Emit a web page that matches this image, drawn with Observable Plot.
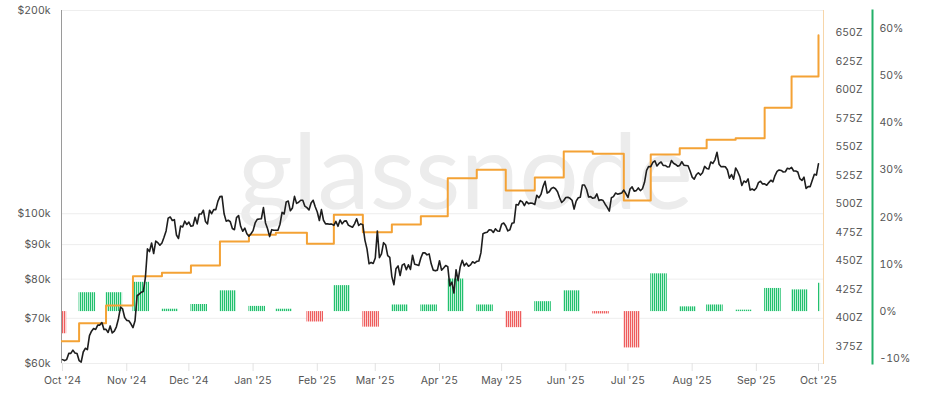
<!DOCTYPE html>
<html><head><meta charset="utf-8">
<script src="https://cdn.jsdelivr.net/npm/d3@7"></script>
<script src="https://cdn.jsdelivr.net/npm/@observablehq/plot@0.6"></script>
<style>
html,body{margin:0;padding:0;background:#fff;}
#chart{position:relative;width:930px;height:394px;overflow:hidden;}
#chart svg{position:absolute;left:0;top:0;}
</style></head><body><div id="chart"></div>
<script>
// ---------- DATA ----------
const priceStart = "2024-10-01"; // daily BTC price, $k
const priceK = [
// Oct 2024
60.8,60.6,60.8,62.1,62.1,62.8,62.2,62.1,60.6,60.3,62.4,63.2,62.9,66.0,67.0,67.6,67.4,68.4,68.4,69.0,67.4,67.4,66.7,68.2,66.6,67.0,68.0,69.9,72.7,72.3,70.2,
// Nov
69.5,69.4,68.7,67.8,69.4,75.6,76.0,76.5,76.7,80.4,88.7,87.9,90.5,87.3,91.1,90.6,89.8,90.5,92.3,94.3,98.5,98.9,97.7,98.0,93.0,91.9,95.9,95.6,97.5,96.4,
// Dec
97.2,95.8,96.0,98.8,96.6,99.9,99.9,101.2,97.4,96.6,101.2,100.0,101.4,101.4,104.3,106.0,106.1,100.0,97.5,97.8,97.3,95.1,94.7,98.7,99.4,95.8,94.2,95.2,93.4,92.6,93.4,
// Jan 2025
94.4,96.9,98.1,98.2,98.3,102.1,96.9,95.0,92.5,94.7,94.5,94.5,94.5,96.5,100.5,99.9,104.1,104.4,101.0,102.0,106.1,103.6,104.0,104.7,104.7,102.6,102.1,101.3,103.7,104.7,102.4,
// Feb
100.6,97.7,101.4,97.8,96.6,96.6,96.5,96.5,96.1,97.4,95.8,97.9,96.6,97.5,97.6,96.2,95.8,95.5,96.6,98.3,96.1,96.6,96.3,91.4,88.7,84.3,84.7,84.4,
// Mar
86.0,94.3,86.1,87.2,90.6,89.9,86.7,86.2,80.7,78.5,82.9,83.7,81.0,83.9,84.3,82.6,84.0,82.7,86.8,84.2,84.0,83.8,86.0,87.5,87.5,86.9,87.2,84.3,82.5,82.3,82.5,
// Apr
85.2,82.5,83.1,83.8,83.5,78.2,79.2,76.3,82.6,79.6,83.4,85.3,83.7,84.5,83.6,84.0,84.9,84.5,85.0,85.1,87.5,93.4,93.7,93.9,94.7,94.6,93.8,95.0,94.3,94.2,
// May
96.5,96.9,95.9,94.3,94.7,96.8,97.0,103.2,103.0,104.6,104.1,102.8,104.2,103.5,103.7,103.6,103.2,106.5,105.6,106.8,109.7,111.7,107.3,107.8,109.0,109.4,108.9,107.8,105.6,103.9,104.6,
// Jun
105.7,105.8,105.4,104.7,101.6,104.4,105.6,105.8,110.3,110.3,108.7,105.9,106.0,105.4,105.6,107.0,104.6,104.9,104.6,103.3,102.2,100.9,105.6,106.0,107.3,106.9,107.1,107.3,108.4,107.1,
// Jul
105.7,108.8,109.6,108.0,108.2,109.2,108.2,108.9,111.3,115.9,117.5,117.4,119.1,119.8,117.7,118.7,119.3,117.9,117.9,117.3,117.4,119.9,118.8,118.3,117.6,117.9,119.4,118.0,117.9,117.8,115.7,
// Aug
113.3,112.5,114.2,115.0,114.1,115.0,117.5,116.7,116.5,119.3,118.7,120.2,123.3,118.4,117.4,117.5,117.4,116.2,112.9,114.3,112.5,116.9,115.4,113.5,110.1,111.8,111.3,112.6,108.4,108.8,108.3,
// Sep
109.2,111.2,111.7,110.7,110.7,110.2,111.2,112.1,111.5,113.9,115.5,116.1,115.9,115.3,115.4,116.8,116.5,117.1,115.7,115.7,115.3,112.7,112.0,113.3,109.0,109.7,109.7,112.1,114.4,114.1,
// Oct 2025
118.6
];

// difficulty adjustments
const adjDates = ["2024-09-25","2024-10-09","2024-10-22","2024-11-04","2024-11-18","2024-12-02","2024-12-16","2024-12-30",
  "2025-01-12","2025-01-27","2025-02-09","2025-02-23","2025-03-09","2025-03-23","2025-04-05","2025-04-19","2025-05-03",
  "2025-05-17","2025-05-31","2025-06-14","2025-06-29","2025-07-12","2025-07-26","2025-08-08","2025-08-22","2025-09-05",
  "2025-09-18","2025-10-01"];
const difficultyZ = [379.4,395.2,410.7,436.4,439.4,445.8,466.9,472.8,474.5,464.9,490.3,475.1,481.8,489.1,522.5,529.9,511.7,
  523.1,545.9,543.9,502.9,543.3,548.8,556.2,557.6,584.3,611.8,648.0];
const adjChangePct = [-4.7,4.0,4.0,6.2,0.5,1.5,4.4,1.1,0.5,-2.2,5.5,-3.3,1.4,1.4,6.9,1.4,-3.4,2.1,4.4,-0.5,-7.7,8.0,1.0,1.4,0.3,4.9,4.6,6.0];

const priceTicks = [60,70,80,90,100,200];
const diffTicks = [375,400,425,450,475,500,525,550,575,600,625,650];
const pctTicks = [-10,0,10,20,30,40,50,60];
const monthTicks = ["2024-10-01","2024-11-01","2024-12-01","2025-01-01","2025-02-01","2025-03-01","2025-04-01",
  "2025-05-01","2025-06-01","2025-07-01","2025-08-01","2025-09-01","2025-10-01"];

// ---------- BUILD ----------
const DAY = 864e5;
const t0 = new Date(priceStart + "T00:00:00Z").getTime();
const price = priceK.map((v, i) => ({date: new Date(t0 + i * DAY), v}));
const tEnd = t0 + priceK.length * DAY;
const diff = adjDates.map((d, i) => ({date: new Date(d + "T00:00:00Z"), v: difficultyZ[i]}));
const bars = adjDates.map((d, i) => {
  const s = new Date(d + "T00:00:00Z").getTime();
  return {start: new Date(Math.max(s, t0)), end: new Date(Math.min(s + 8 * DAY, tEnd)), pct: adjChangePct[i]};
});
const xDomain = [new Date(Date.UTC(2024, 8, 30, 12)), new Date(Date.UTC(2025, 9, 3, 10))];
const mTicks = monthTicks.map(d => new Date(d + "T00:00:00Z"));

const common = {width: 930, height: 394, marginLeft: 61, marginRight: 107, marginTop: 10, marginBottom: 31};
const font = {fontFamily: "Inter, 'Noto Sans', sans-serif", fontSize: "10.5px", color: "#555"};

const base = Plot.plot({
  ...common,
  style: {...font, background: "#fff"},
  x: {type: "utc", domain: xDomain},
  y: {type: "log", domain: [60, 200]},
  marks: [
    Plot.text(["glassnode"], {text: d => d, frameAnchor: "middle", dx: 23, dy: -12, fontSize: 105,
      fill: "#ececec", fontFamily: "Lato, sans-serif"}),
    Plot.ruleY(priceTicks, {stroke: "#eeeeee"}),
    Plot.ruleX([xDomain[0]], {stroke: "#9a9a9a"}),
    Plot.axisX({ticks: mTicks, tickFormat: d3.utcFormat("%b '%y"), tickSize: 8, tickPadding: 5,
      stroke: "#e2e2e2", fill: "#555", label: null}),
    Plot.axisY({ticks: priceTicks, tickFormat: d => `$${d}k`, tickSize: 0, tickPadding: 11, fill: "#555", label: null})
  ]
});

const barLayer = Plot.plot({
  ...common,
  marginRight: 58,
  style: {...font, background: "transparent"},
  x: {type: "utc", domain: xDomain, range: [61, 823], axis: null},
  y: {domain: [-11, 63.8]},
  marks: [
    Plot.rectY(bars.filter(d => d.pct >= 0), {x1: "start", x2: "end", y1: 0, y2: "pct", fill: "url(#gstripe)"}),
    Plot.rectY(bars.filter(d => d.pct < 0), {x1: "start", x2: "end", y1: 0, y2: "pct", fill: "url(#rstripe)"}),
    Plot.frame({anchor: "right", stroke: "#22b068", strokeWidth: 2}),
    Plot.axisY({anchor: "right", ticks: pctTicks, tickFormat: d => d + "%", tickSize: 0, tickPadding: 7, fill: "#555", label: null})
  ]
});
const ns = "http://www.w3.org/2000/svg";
const defs = document.createElementNS(ns, "defs");
defs.innerHTML = `
<pattern id="gstripe" patternUnits="userSpaceOnUse" width="2" height="10">
  <rect width="2" height="10" fill="#c2f0d8"/><rect width="1" height="10" fill="#22c06e"/></pattern>
<pattern id="rstripe" patternUnits="userSpaceOnUse" width="2" height="10">
  <rect width="2" height="10" fill="#fad0d0"/><rect width="1" height="10" fill="#ee5c5c"/></pattern>`;
barLayer.insertBefore(defs, barLayer.firstChild);

const diffLayer = Plot.plot({
  ...common,
  style: {...font, background: "transparent"},
  x: {type: "utc", domain: xDomain, axis: null},
  y: {domain: [359.8, 669.7]},
  marks: [
    Plot.frame({anchor: "right", stroke: "#f7d6aa"}),
    Plot.line(diff, {x: "date", y: "v", curve: "step-after", stroke: "#f4a235", strokeWidth: 2, clip: true}),
    Plot.axisY({anchor: "right", ticks: diffTicks, tickFormat: d => d + "Z", tickSize: 0, tickPadding: 12, fill: "#555", label: null})
  ]
});

const priceLayer = Plot.plot({
  ...common,
  style: {...font, background: "transparent"},
  x: {type: "utc", domain: xDomain, axis: null},
  y: {type: "log", domain: [60, 200], axis: null},
  marks: [
    Plot.line(price, {x: "date", y: "v", stroke: "#1e1e1e", strokeWidth: 1.6})
  ]
});

const el = document.getElementById("chart");
[base, barLayer, diffLayer, priceLayer].forEach(s => el.appendChild(s));
</script></body></html>
